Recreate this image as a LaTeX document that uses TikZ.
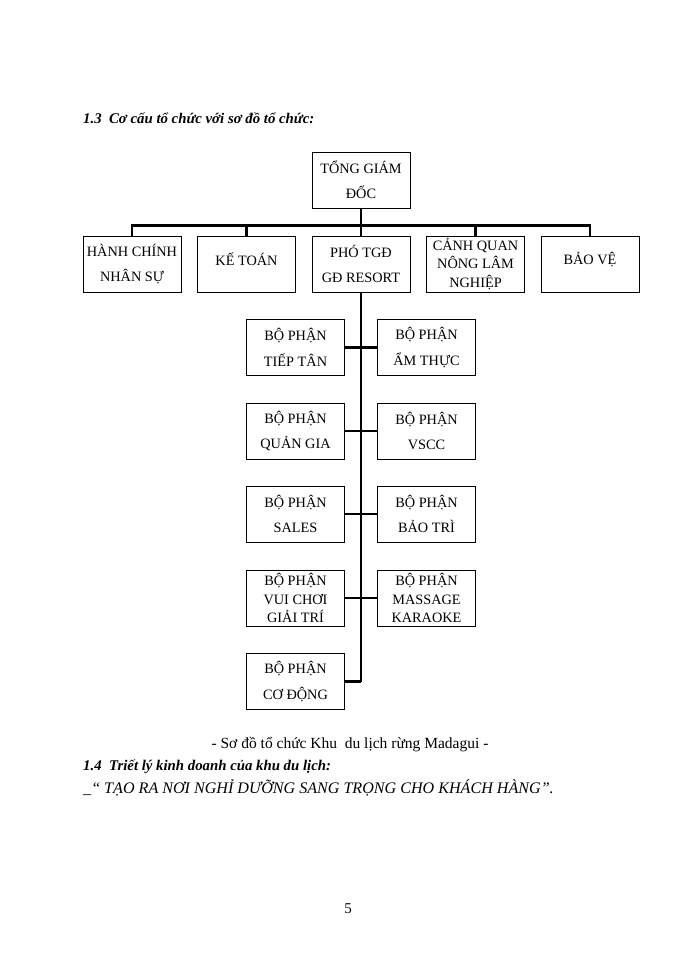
\documentclass[tikz,border=0pt]{standalone}
\usepackage{fontspec}
\setmainfont{LiberationSerif}[Extension=.ttf, UprightFont=*-Regular, BoldFont=*-Bold, ItalicFont=*-Italic, BoldItalicFont=*-BoldItalic]
\begin{document}
\begin{tikzpicture}[x=1pt,y=-1pt,
  box/.style={draw, line width=0.9pt, minimum width=98pt, minimum height=56pt, inner sep=0pt,
    align=center, font=\fontsize{14.3pt}{25.5pt}\selectfont},
  box3/.style={box, font=\fontsize{14.3pt}{18.3pt}\selectfont},
  conn/.style={line width=2.9pt},
  txt/.style={inner sep=0pt, anchor=base west}]
\fill[white] (0,0) rectangle (700,960);
\useasboundingbox (0,0) rectangle (700,960);
% heading
\node[txt, font=\fontsize{14.8pt}{16pt}\selectfont\bfseries\itshape] (h13) at (83,124) {1.3\ \ Cơ cấu tổ chức với sơ đồ tổ chức:};
% top
\node[box] (top) at (361,180.5) {\mbox{}\\[-14pt]TỔNG GIÁM\\ĐỐC};
\node[box] (b1) at (132,264) {HÀNH CHÍNH\\NHÂN SỰ};
\node[box] (b2) at (246.5,264) {KẾ TOÁN\\[-15pt]\mbox{}};
\node[box] (b3) at (361,264) {PHÓ TGĐ\\GĐ RESORT};
\node[box3] (b4) at (475.5,264) {CẢNH QUAN\\NÔNG LÂM\\NGHIỆP};
\node[box] (b5) at (590,264) {BẢO VỆ\\[-15pt]\mbox{}};
% middle
\node[box] (m1l) at (295.5,347.5) {BỘ PHẬN\\TIẾP TÂN};
\node[box] (m1r) at (426.5,347.5) {BỘ PHẬN\\ẨM THỰC};
\node[box] (m2l) at (295.5,431) {BỘ PHẬN\\QUẢN GIA};
\node[box] (m2r) at (426.5,431) {BỘ PHẬN\\VSCC};
\node[box] (m3l) at (295.5,514) {BỘ PHẬN\\SALES};
\node[box] (m3r) at (426.5,514) {BỘ PHẬN\\BẢO TRÌ};
\node[box3] (m4l) at (295.5,598) {BỘ PHẬN\\VUI CHƠI\\GIẢI TRÍ};
\node[box3] (m4r) at (426.5,598) {BỘ PHẬN\\MASSAGE\\KARAOKE};
\node[box] (m5l) at (295.5,681.5) {BỘ PHẬN\\CƠ ĐỘNG};
% connectors
\coordinate (bary) at (0,225.5);
\draw[conn] (top.south) -- (top.south |- bary);
\draw[conn] (b1.north) -- (b1.north |- bary) -- (b5.north |- bary) -- (b5.north);
\draw[conn] (b2.north) -- (b2.north |- bary);
\draw[conn] (b3.north) -- (b3.north |- bary);
\draw[conn] (b4.north) -- (b4.north |- bary);
\draw[conn] (b3.south) -- (b3.south |- m5l.east);
\draw[conn] (m1l.east) -- (m1r.west);
\draw[conn] (m2l.east) -- (m2r.west);
\draw[conn] (m3l.east) -- (m3r.west);
\draw[conn] (m4l.east) -- (m4r.west);
\draw[conn] (m5l.east) -- (b3.south |- m5l.east);
% texts below
\node[inner sep=0pt, anchor=base, font=\fontsize{15.5pt}{17pt}\selectfont] (cap) at (350,748) {- Sơ đồ tổ chức Khu\ \ du lịch rừng Madagui -};
\node[txt, font=\fontsize{14.8pt}{16pt}\selectfont\bfseries\itshape] (h14) at (83,770) {1.4\ \ Triết lý kinh doanh của khu du lịch:};
\node[txt, font=\fontsize{16.1pt}{19pt}\selectfont\itshape] (quote) at (83,793) {\_“\ TẠO RA NƠI NGHỈ DƯỠNG SANG TRỌNG CHO KHÁCH HÀNG”.};
\node[inner sep=0pt, anchor=base, font=\fontsize{15pt}{17pt}\selectfont] (pg) at (348,913) {5};
\end{tikzpicture}
\end{document}
